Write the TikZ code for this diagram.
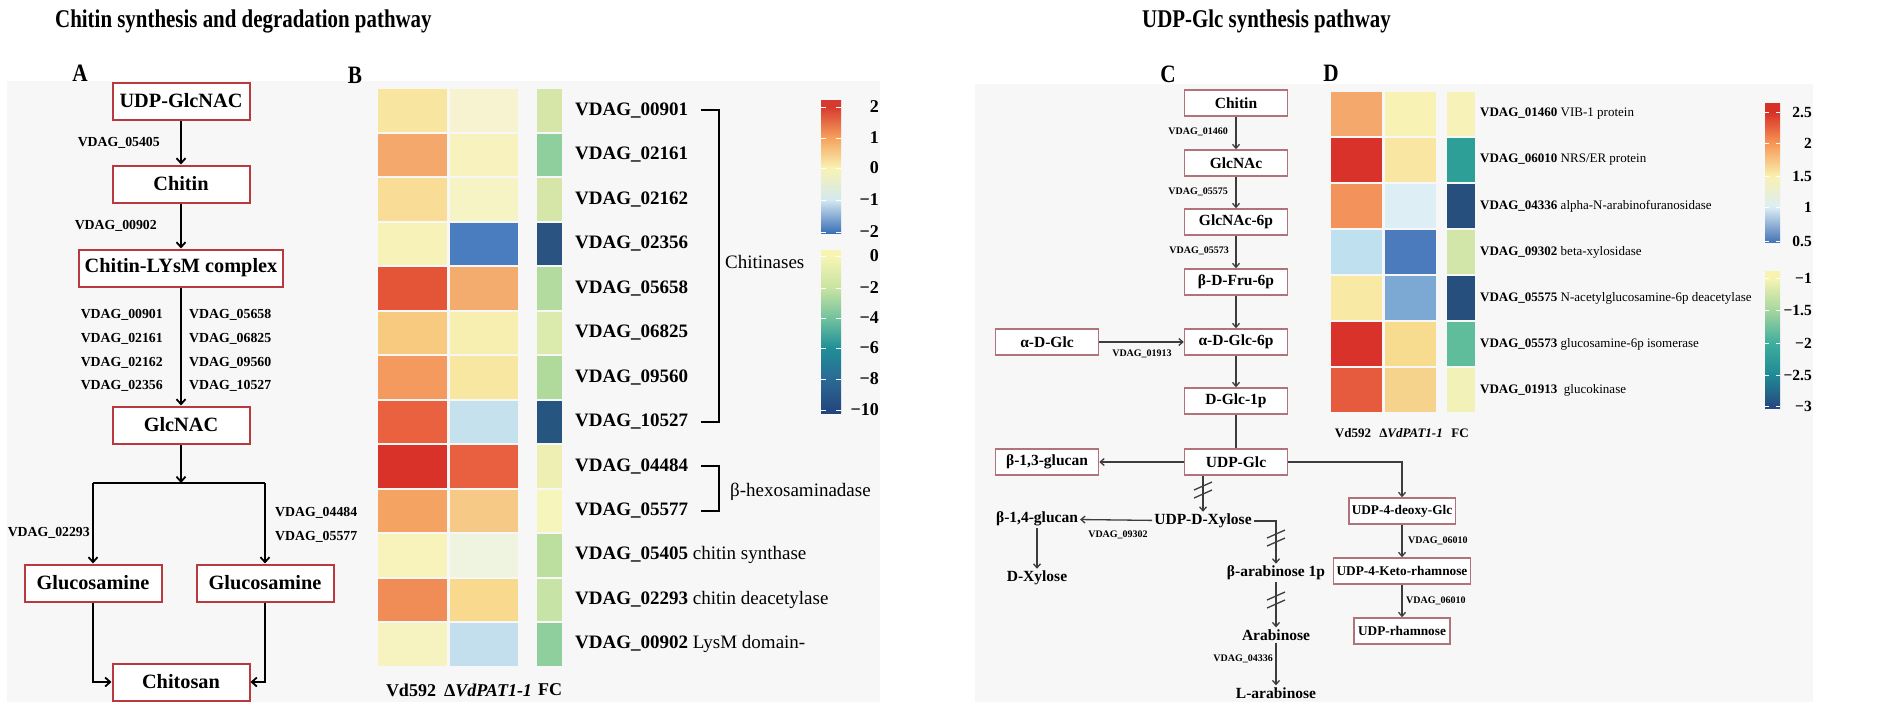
\documentclass[tikz,border=0pt]{standalone}
\usepackage{fontspec}
\usepackage{graphicx}
\setmainfont{Liberation Serif}
\usetikzlibrary{arrows.meta}

\definecolor{boxred}{HTML}{B83A3F}
\definecolor{boxrose}{HTML}{B0737A}
\definecolor{lgray}{HTML}{3C3C3C}
\definecolor{bggray}{HTML}{F7F7F7}
% colour bar stops
\definecolor{sbA}{HTML}{3B6FB6}\definecolor{sbB}{HTML}{D3E8F1}\definecolor{sbC}{HTML}{F8F3B3}
\definecolor{sbD}{HTML}{F6A25D}\definecolor{sbE}{HTML}{D63A2E}
\definecolor{sgA}{HTML}{24467E}\definecolor{sgB}{HTML}{2A6A95}\definecolor{sgC}{HTML}{1F8F97}
\definecolor{sgD}{HTML}{72C29E}\definecolor{sgE}{HTML}{C8E3A2}\definecolor{sgF}{HTML}{F8F5B4}
\definecolor{sdA}{HTML}{4A78B7}\definecolor{sdB}{HTML}{DCEEF5}\definecolor{sdC}{HTML}{F9F1B0}
\definecolor{sdD}{HTML}{F79656}\definecolor{sdE}{HTML}{D73027}
\definecolor{seA}{HTML}{27497F}\definecolor{seB}{HTML}{1F8A96}\definecolor{seC}{HTML}{3FAE9C}
\definecolor{seD}{HTML}{A6D69F}\definecolor{seE}{HTML}{F7F4B2}

\pgfdeclareverticalshading{cbarB1}{100bp}{color(0bp)=(sbA); color(25bp)=(sbA); color(37.4bp)=(sbB); color(49.4bp)=(sbC); color(60.7bp)=(sbD); color(72.4bp)=(sbE); color(100bp)=(sbE)}
\pgfdeclareverticalshading{cbarB2}{100bp}{color(0bp)=(sgA); color(25.9bp)=(sgA); color(35.4bp)=(sgB); color(44.9bp)=(sgC); color(54.1bp)=(sgD); color(63.3bp)=(sgE); color(73.2bp)=(sgF); color(100bp)=(sgF)}
\pgfdeclareverticalshading{cbarD1}{100bp}{color(0bp)=(sdA); color(25.4bp)=(sdA); color(37.6bp)=(sdB); color(48.7bp)=(sdC); color(60.6bp)=(sdD); color(71.8bp)=(sdE); color(100bp)=(sdE)}
\pgfdeclareverticalshading{cbarD2}{100bp}{color(0bp)=(seA); color(25.7bp)=(seA); color(37bp)=(seB); color(48.7bp)=(seC); color(60.8bp)=(seD); color(72.4bp)=(seE); color(100bp)=(seE)}

\tikzset{
  abox/.style={draw=boxred, line width=2pt, fill=white, minimum width=137pt, minimum height=37pt, inner xsep=6pt, font=\fontsize{20.3}{22}\selectfont\bfseries},
  alab/.style={inner sep=0pt, font=\fontsize{13.8}{15}\selectfont\bfseries},
  aarr/.style={line width=1.8pt, -{Straight Barb[length=5pt,width=9pt]}},
  aline/.style={line width=1.8pt},
  cbox/.style={draw=boxrose, line width=1.5pt, fill=white, minimum width=103pt, minimum height=26pt, inner xsep=3pt, font=\fontsize{15.5}{17}\selectfont\bfseries},
  rbox/.style={cbox, minimum width=96pt, font=\fontsize{13.3}{15}\selectfont\bfseries},
  cname/.style={inner sep=2pt, font=\fontsize{15.5}{17}\selectfont\bfseries},
  clab/.style={inner sep=0pt, font=\fontsize{10}{11}\selectfont\bfseries},
  carr/.style={draw=lgray, line width=1.3pt, -{Straight Barb[length=4pt,width=7pt]}},
  cline/.style={draw=lgray, line width=1.3pt},
  gene/.style={anchor=west, inner sep=0pt, font=\fontsize{19}{21}\selectfont},
  geneD/.style={anchor=west, inner sep=0pt, font=\fontsize{13}{15}\selectfont},
  collab/.style={inner sep=0pt, font=\fontsize{18}{20}\selectfont\bfseries},
  collabD/.style={inner sep=0pt, font=\fontsize{13}{15}\selectfont\bfseries},
  tickB/.style={anchor=east, inner sep=0pt, font=\fontsize{18}{20}\selectfont\bfseries},
  tickD/.style={anchor=east, inner sep=0pt, font=\fontsize{15.5}{18}\selectfont\bfseries},
  panel/.style={font=\fontsize{25}{27}\selectfont\bfseries},
  ttl/.style={anchor=west, inner sep=0pt, font=\fontsize{25.5}{28}\selectfont\bfseries},
  dslash/.pic={\draw[lgray, line width=1.3pt] (-9,0) -- (9,-8) (-9,8) -- (9,0);}
}

\begin{document}
\begin{tikzpicture}[x=1pt, y=-1pt]
\useasboundingbox (0,0) rectangle (1902,716);
\fill[bggray] (7,81) rectangle (880,702);
\fill[bggray] (975,84) rectangle (1813,702);

\node[ttl] (ttlA) at (55,21) {\scalebox{0.82}[1]{Chitin synthesis and degradation pathway}};
\node[ttl] (ttlC) at (1142,21) {\scalebox{0.82}[1]{UDP-Glc synthesis pathway}};
\node[panel] (pA) at (80,73) {\scalebox{0.85}[1]{A}};
\node[panel] (pB) at (355,75) {\scalebox{0.85}[1]{B}};
\node[panel] (pC) at (1168,74) {\scalebox{0.85}[1]{C}};
\node[panel] (pD) at (1331,73) {\scalebox{0.85}[1]{D}};

% A: chitin pathway
\node[abox] (udp) at (181,101) {UDP-GlcNAC};
\node[abox] (chitin) at (181,184) {Chitin};
\node[abox] (lysm) at (181,268) {Chitin-LYsM complex};
\node[abox] (glcnac) at (181,425) {GlcNAC};
\node[abox] (gluA) at (93,583) {Glucosamine};
\node[abox] (gluB) at (265,583) {Glucosamine};
\node[abox] (chitosan) at (181,682) {Chitosan};
\coordinate (split) at (181,483);
\draw[aarr] (udp) -- (chitin);
\draw[aarr] (chitin) -- (lysm);
\draw[aarr] (lysm) -- (glcnac);
\draw[aarr] (glcnac) -- (split);
\draw[aline] (gluA |- split) -- (gluB |- split);
\draw[aarr] (gluA |- split) -- (gluA.north);
\draw[aarr] (gluB |- split) -- (gluB.north);
\draw[aarr] (gluA.south) |- (chitosan.west);
\draw[aarr] (gluB.south) |- (chitosan.east);
\node[alab, anchor=east] at (160,143) {VDAG\_05405};
\node[alab, anchor=east] at (157,226) {VDAG\_00902};
\node[alab, anchor=east] at (163,315) {VDAG\_00901};
\node[alab, anchor=east] at (163,339) {VDAG\_02161};
\node[alab, anchor=east] at (163,363) {VDAG\_02162};
\node[alab, anchor=east] at (163,386) {VDAG\_02356};
\node[alab, anchor=west] at (189,315) {VDAG\_05658};
\node[alab, anchor=west] at (189,339) {VDAG\_06825};
\node[alab, anchor=west] at (189,363) {VDAG\_09560};
\node[alab, anchor=west] at (189,386) {VDAG\_10527};
\node[alab, anchor=east] at (90,533) {VDAG\_02293};
\node[alab, anchor=west] at (275,513) {VDAG\_04484};
\node[alab, anchor=west] at (275,537) {VDAG\_05577};

% B: heat map
\foreach \va/\vb/\fc [count=\i from 0] in {F8E6A0/F7F3D0/D6E5A8, F5A86B/F8F2BF/8FCF9E, F9DC95/F6F3C5/D6E6A8, F7F2B8/4A7DBF/2B5382, E45538/F4AC6E/B3DBA0, F7CA80/F7EFB0/DBEAAD, F59A5E/F8E7A0/B0DA9B, EA6140/C6E1EE/26567F, D93228/E96040/EEF0B3, F4A363/F6C987/F6F5BC, F7F3BB/EEF4E0/BCDF9F, F08C55/F8D98E/C7E3A6, F7F3C0/C3DFEE/8FCF9E}{
  \definecolor{ca}{HTML}{\va}\definecolor{cb}{HTML}{\vb}\definecolor{cc}{HTML}{\fc}
  \fill[ca] (378,{89+44.5*\i}) rectangle (447,{87+44.5*(\i+1)});
  \fill[cb] (450,{89+44.5*\i}) rectangle (518,{87+44.5*(\i+1)});
  \fill[cc] (537,{89+44.5*\i}) rectangle (562,{87+44.5*(\i+1)});
}
\foreach \g/\d [count=\i from 0] in {00901/{}, 02161/{}, 02162/{}, 02356/{}, 05658/{}, 06825/{}, 09560/{}, 10527/{}, 04484/{}, 05577/{}, 05405/{~chitin synthase}, 02293/{~chitin deacetylase}, 00902/{~LysM domain-}}
  \node[gene] (g\i) at (575,{88+44.5*(\i+0.5)}) {\textbf{VDAG\_\g}\d};
\draw[line width=1.8pt] ([xshift=13pt]g0.east) -- ++(18,0) |- ([xshift=13pt]g7.east);
\draw[line width=1.8pt] ([xshift=13pt]g8.east) -- ++(18,0) |- ([xshift=13pt]g9.east);
\node[gene] (chit) at (725,262) {Chitinases};
\node[gene] (hexo) at (730,492) {β-hexosaminadase};
\node[collab] (cVd) at (411,690) {Vd592};
\node[collab] (cPat) at (488,690) {Δ\textit{VdPAT1-1}};
\node[collab] (cFC) at (550,690) {FC};
\shade[shading=cbarB1] (821,100) rectangle (841,233);
\shade[shading=cbarB2] (821,250) rectangle (841,413);
\foreach \v/\y in {2/107, 1/138, 0/168, −1/200, −2/232}{
  \node[tickB] at (879,\y) {\v};
  \draw[white, line width=1pt] (821,\y) -- ++(5,0) (841,\y) -- ++(-5,0);
}
\foreach \v/\y in {0/256, −2/288, −4/318, −6/348, −8/379, −10/410}{
  \node[tickB] at (879,\y) {\v};
  \draw[white, line width=1pt] (821,\y) -- ++(5,0) (841,\y) -- ++(-5,0);
}

% C: UDP-Glc pathway
\node[cbox] (chitinC) at (1236,103) {Chitin};
\node[cbox] (glcnacC) at (1236,163) {GlcNAc};
\node[cbox] (glcnac6p) at (1236,222) {GlcNAc-6p};
\node[cbox] (fru6p) at (1236,282) {β-D-Fru-6p};
\node[cbox] (glc6p) at (1236,342) {α-D-Glc-6p};
\node[cbox] (aglc) at (1047,342) {α-D-Glc};
\node[cbox] (glc1p) at (1236,401) {D-Glc-1p};
\node[cbox] (udpglc) at (1236,462) {UDP-Glc};
\node[cbox] (b13) at (1047,462) {β-1,3-glucan};
\node[rbox] (deoxy) at (1402,511) {UDP-4-deoxy-Glc};
\node[rbox] (keto) at (1402,571) {UDP-4-Keto-rhamnose};
\node[rbox] (rham) at (1402,631) {UDP-rhamnose};
\node[cname] (xyl) at (1203,521) {UDP-D-Xylose};
\node[cname] (b14) at (1037,519) {β-1,4-glucan};
\node[cname] (dxyl) at (1037,578) {D-Xylose};
\node[cname] (arab1p) at (1276,573) {β-arabinose 1p};
\node[cname] (arab) at (1276,635) {Arabinose};
\node[cname] (larab) at (1276,693) {L-arabinose};
\draw[carr] (chitinC) -- (glcnacC);
\draw[carr] (glcnacC) -- (glcnac6p);
\draw[carr] (glcnac6p) -- (fru6p);
\draw[carr] (fru6p) -- (glc6p);
\draw[carr] (aglc) -- (glc6p);
\draw[carr] (glc6p) -- (glc1p);
\draw[cline] (glc1p) -- (udpglc);
\draw[carr] (udpglc) -- (b13);
\draw[carr] (udpglc.east) -| (deoxy.north);
\draw[carr] (deoxy) -- (keto);
\draw[carr] (keto) -- (rham);
\draw[carr] (udpglc.south -| xyl.north) -- (xyl.north);
\draw[carr] (xyl) -- (b14);
\draw[carr] (b14) -- (dxyl);
\draw[carr] (xyl.east) -| (arab1p.north);
\draw[carr] (arab1p) -- (arab);
\draw[carr] (arab) -- (larab);
\pic at (1203,490) {dslash};
\pic at (1276,538) {dslash};
\pic at (1276,600) {dslash};
\node[clab, anchor=east] at (1228,132) {VDAG\_01460};
\node[clab, anchor=east] at (1228,192) {VDAG\_05575};
\node[clab, anchor=east] at (1229,251) {VDAG\_05573};
\node[clab] at (1142,354) {VDAG\_01913};
\node[clab] at (1118,535) {VDAG\_09302};
\node[clab, anchor=east] at (1273,659) {VDAG\_04336};
\node[clab, anchor=west] at (1408,541) {VDAG\_06010};
\node[clab, anchor=west] at (1406,601) {VDAG\_06010};

% D: heat map
\foreach \va/\vb/\fc [count=\i from 0] in {F4A86B/F8F2B5/F6F2B8, D8322A/F8E6A2/2D9F96, F3925A/DDEEF5/274F7D, BFE0EE/4B7BBD/D3E6A9, F8E9A4/7BA9D3/274F7D, D8322A/F7DC90/5FBD9C, E65B3D/F6D38C/F2F2B8}{
  \definecolor{ca}{HTML}{\va}\definecolor{cb}{HTML}{\vb}\definecolor{cc}{HTML}{\fc}
  \fill[ca] (1331,{92+46*\i}) rectangle (1382,{90+46*(\i+1)});
  \fill[cb] (1385,{92+46*\i}) rectangle (1436,{90+46*(\i+1)});
  \fill[cc] (1447,{92+46*\i}) rectangle (1475,{90+46*(\i+1)});
}
\foreach \g/\d [count=\i from 0] in {01460/{VIB-1 protein}, 06010/{NRS/ER protein}, 04336/{alpha-N-arabinofuranosidase}, 09302/{beta-xylosidase}, 05575/{N-acetylglucosamine-6p deacetylase}, 05573/{glucosamine-6p isomerase}, 01913/{~glucokinase}}
  \node[geneD] (h\i) at (1480,{91+46*(\i+0.5)}) {\textbf{VDAG\_\g}~\d};
\node[collabD] (dVd) at (1353,433) {Vd592};
\node[collabD] (dPat) at (1411,433) {Δ\textit{VdPAT1-1}};
\node[collabD] (dFC) at (1460,433) {FC};
\shade[shading=cbarD1] (1765,103) rectangle (1780,242);
\shade[shading=cbarD2] (1765,271) rectangle (1780,408);
\foreach \v/\y in {2.5/112, 2/143, 1.5/176, 1/207, 0.5/241, −1/278, −1.5/310, −2/343, −2.5/375, −3/406}{
  \node[tickD] at (1812,\y) {\v};
  \draw[white, line width=1pt] (1765,\y) -- ++(4,0) (1780,\y) -- ++(-4,0);
}
\end{tikzpicture}
\end{document}
